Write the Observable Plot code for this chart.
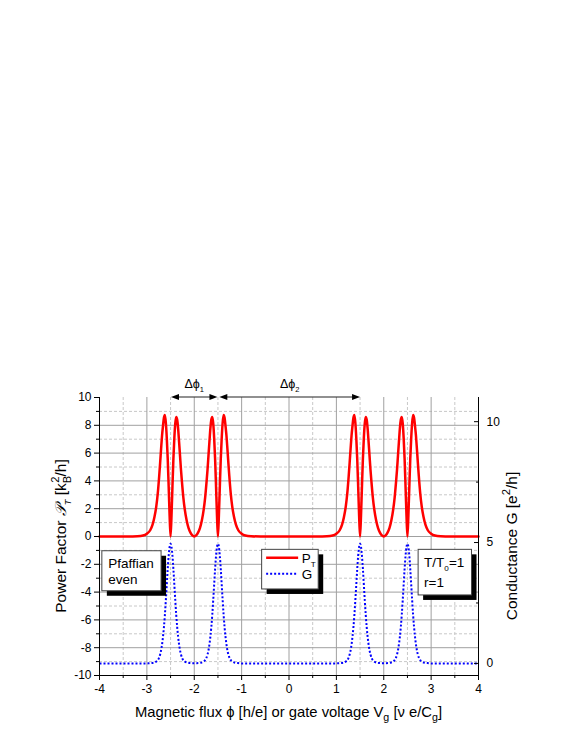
<!DOCTYPE html>
<html><head><meta charset="utf-8">
<script src="https://cdn.jsdelivr.net/npm/d3@7"></script>
<script src="https://cdn.jsdelivr.net/npm/@observablehq/plot@0.6"></script>
<style>body{margin:0;background:#fff;font-family:"Liberation Sans",Arial,sans-serif}</style>
</head><body><div id="chart"></div>
<script>
// ---- data ----
const phiP = [-4,-3.4,-3.2,-3.08,-3.0,-2.93,-2.88,-2.84,-2.80,-2.77,-2.74,-2.72,-2.70,-2.68,-2.66,-2.64,-2.62,-2.60,-2.58,-2.56,-2.54,-2.52,-2.50,-2.48,-2.46,-2.44,-2.42,-2.40,-2.38,-2.36,-2.34,-2.32,-2.30,-2.28,-2.26,-2.23,-2.20,-2.16,-2.12,-2.08,-2.04,-2.00,-1.96,-1.92,-1.88,-1.84,-1.80,-1.77,-1.74,-1.72,-1.70,-1.68,-1.66,-1.64,-1.62,-1.60,-1.58,-1.56,-1.54,-1.52,-1.50,-1.48,-1.46,-1.44,-1.42,-1.40,-1.38,-1.36,-1.34,-1.32,-1.30,-1.28,-1.26,-1.23,-1.20,-1.16,-1.12,-1.07,-1.00,-0.92,-0.80,-0.60,0,
  0.60,0.80,0.92,1.00,1.07,1.12,1.16,1.20,1.23,1.26,1.28,1.30,1.32,1.34,1.36,1.38,1.40,1.42,1.44,1.46,1.48,1.50,1.52,1.54,1.56,1.58,1.60,1.62,1.64,1.66,1.68,1.70,1.72,1.74,1.77,1.80,1.84,1.88,1.92,1.96,2.00,2.04,2.08,2.12,2.16,2.20,2.23,2.26,2.28,2.30,2.32,2.34,2.36,2.38,2.40,2.42,2.44,2.46,2.48,2.50,2.52,2.54,2.56,2.58,2.60,2.62,2.64,2.66,2.68,2.70,2.72,2.74,2.77,2.80,2.84,2.88,2.93,3.00,3.08,3.20,3.40,4.00];
const powerFactor = [0,0,0.02,0.07,0.2,0.45,0.85,1.4,2.2,3.1,4.35,5.3,6.3,7.25,7.95,8.55,8.75,8.2,7.1,5.6,3.6,1.5,0,1.5,3.6,5.6,7.1,8.15,8.6,8.4,7.75,6.8,5.8,4.8,3.95,2.8,1.95,1.15,0.6,0.28,0.08,0,0.08,0.28,0.6,1.15,1.95,2.8,3.95,4.8,5.8,6.8,7.75,8.4,8.6,8.15,7.1,5.6,3.6,1.5,0,1.5,3.6,5.6,7.1,8.2,8.75,8.55,7.95,7.25,6.3,5.3,4.35,3.1,2.2,1.4,0.85,0.45,0.2,0.07,0.02,0,0,
  0,0.02,0.07,0.2,0.45,0.85,1.4,2.2,3.1,4.35,5.3,6.3,7.25,7.95,8.55,8.75,8.2,7.1,5.6,3.6,1.5,0,1.5,3.6,5.6,7.1,8.15,8.6,8.4,7.75,6.8,5.8,4.8,3.95,2.8,1.95,1.15,0.6,0.28,0.08,0,0.08,0.28,0.6,1.15,1.95,2.8,3.95,4.8,5.8,6.8,7.75,8.4,8.6,8.15,7.1,5.6,3.6,1.5,0,1.5,3.6,5.6,7.1,8.2,8.75,8.55,7.95,7.25,6.3,5.3,4.35,3.1,2.2,1.4,0.85,0.45,0.2,0.07,0.02,0,0];
const phiG = [-4,-3.0,-2.95,-2.86,-2.80,-2.75,-2.72,-2.69,-2.66,-2.64,-2.62,-2.60,-2.58,-2.56,-2.54,-2.52,-2.50,-2.48,-2.46,-2.44,-2.42,-2.40,-2.38,-2.36,-2.34,-2.31,-2.28,-2.25,-2.20,-2.14,-2.05,-2.00,-1.95,-1.86,-1.80,-1.75,-1.72,-1.69,-1.66,-1.64,-1.62,-1.60,-1.58,-1.56,-1.54,-1.52,-1.50,-1.48,-1.46,-1.44,-1.42,-1.40,-1.38,-1.36,-1.34,-1.31,-1.28,-1.25,-1.20,-1.14,-1.05,-1.00,0,
  1.00,1.05,1.14,1.20,1.25,1.28,1.31,1.34,1.36,1.38,1.40,1.42,1.44,1.46,1.48,1.50,1.52,1.54,1.56,1.58,1.60,1.62,1.64,1.66,1.69,1.72,1.75,1.80,1.86,1.95,2.00,2.05,2.14,2.20,2.25,2.28,2.31,2.34,2.36,2.38,2.40,2.42,2.44,2.46,2.48,2.50,2.52,2.54,2.56,2.58,2.60,2.62,2.64,2.66,2.69,2.72,2.75,2.80,2.86,2.95,3.00,4.00];
const conductance = [0,0,0.01,0.03,0.08,0.2,0.37,0.65,1.1,1.5,2.0,2.6,3.25,3.9,4.45,4.82,4.95,4.82,4.45,3.9,3.25,2.6,2.0,1.5,1.1,0.65,0.37,0.2,0.08,0.03,0.01,0.01,0.01,0.03,0.08,0.2,0.37,0.65,1.1,1.5,2.0,2.6,3.25,3.9,4.45,4.82,4.95,4.82,4.45,3.9,3.25,2.6,2.0,1.5,1.1,0.65,0.37,0.2,0.08,0.03,0.01,0,0,
  0,0.01,0.03,0.08,0.2,0.37,0.65,1.1,1.5,2.0,2.6,3.25,3.9,4.45,4.82,4.95,4.82,4.45,3.9,3.25,2.6,2.0,1.5,1.1,0.65,0.37,0.2,0.08,0.03,0.01,0.01,0.01,0.03,0.08,0.2,0.37,0.65,1.1,1.5,2.0,2.6,3.25,3.9,4.45,4.82,4.95,4.82,4.45,3.9,3.25,2.6,2.0,1.5,1.1,0.65,0.37,0.2,0.08,0.03,0.01,0,0];

const xTicks = [-4,-3,-2,-1,0,1,2,3,4];
const xMinorTicks = [-3.5,-2.5,-1.5,-0.5,0.5,1.5,2.5,3.5];
const yTicks = [-10,-8,-6,-4,-2,0,2,4,6,8,10];
const yMinorTicks = [-9,-7,-5,-3,-1,1,3,5,7,9];
const gTicks = [0,5,10];
const gMinorTicks = [2.5,7.5];
const gDomain = [-0.5, 11];
const pDomain = [-10, 10];
const xDomain = [-4, 4];

// annotation anchors (data units)
const spacings = [{from:-2.48, to:-1.50, label:"1"}, {from:-1.46, to:1.51, label:"2"}];

// ---- build ----
const gToP = d3.scaleLinear().domain(gDomain).range(pDomain);
const pRows = phiP.map((x,i)=>({x, p: powerFactor[i]}));
const gRows = phiG.map((x,i)=>({x, g: conductance[i]}));
const inner = v => v > -10 && v < 10;

const plot = Plot.plot({
  width: 572, height: 740,
  marginTop: 397, marginBottom: 65, marginLeft: 99, marginRight: 94,
  style: {fontFamily: "'Liberation Sans', Arial, sans-serif", fontSize: "12px", background: "white", color: "black", overflow: "visible"},
  x: {domain: xDomain, axis: null},
  y: {domain: pDomain, axis: null},
  marks: [
    Plot.gridX(xMinorTicks, {stroke: "#c8c8c8", strokeOpacity: 1, strokeDasharray: "3,2"}),
    Plot.gridY(yMinorTicks, {stroke: "#c8c8c8", strokeOpacity: 1, strokeDasharray: "3,2"}),
    Plot.gridX(xTicks.filter(v => v > -4 && v < 4), {stroke: "#a0a0a0", strokeOpacity: 1}),
    Plot.gridY(yTicks.filter(inner), {stroke: "#a0a0a0", strokeOpacity: 1}),
    Plot.line(gRows, {x: "x", y: d => gToP(d.g), stroke: "#0000ff", strokeWidth: 2, strokeDasharray: "2,2", strokeLinecap: "butt", curve: "monotone-x"}),
    Plot.line(pRows, {x: "x", y: "p", stroke: "#ff0000", strokeWidth: 2.5, curve: "monotone-x"}),
    Plot.ruleX([-4], {stroke: "black"}),
    Plot.ruleX([4], {stroke: "black"}),
    Plot.ruleY([-10], {stroke: "black"}),
    Plot.axisX({ticks: xTicks, tickSize: 5, tickPadding: 4, tickFormat: d => String(d), label: null}),
    Plot.axisX({ticks: xMinorTicks, tickSize: 3, tickFormat: () => "", label: null}),
    Plot.axisY({ticks: yTicks, tickSize: 5, tickPadding: 3, tickFormat: d => String(d), label: null}),
    Plot.axisY({ticks: yMinorTicks, tickSize: 3, tickFormat: () => "", label: null}),
    Plot.axisY({anchor: "right", ticks: gTicks.map(gToP), tickSize: -5, tickPadding: 13, tickFormat: v => String(Math.round(gToP.invert(v))), label: null}),
    Plot.axisY({anchor: "right", ticks: gMinorTicks.map(gToP), tickSize: -3, tickFormat: () => "", label: null})
  ]
});
document.getElementById("chart").appendChild(plot);

// ---- annotations using the plot's scales ----
const sx = plot.scale("x"), sy = plot.scale("y");
const X = v => sx.apply(v), Y = v => sy.apply(v);
const svg = d3.select(plot);
const FONT = "'Liberation Sans', Arial, sans-serif";

function rich(g, x, y, parts, size, opts = {}) {
  const t = g.append("text").attr("x", x).attr("y", y).attr("font-family", FONT)
    .attr("font-size", size).attr("fill", "black").attr("text-anchor", opts.anchor || "start");
  if (opts.rotate) t.attr("transform", `rotate(-90 ${x} ${y})`);
  let off = 0;
  for (const p of parts) {
    const [s, kind, extra] = p;
    const ts = t.append("tspan").text(s);
    let target = 0, fs = size;
    if (kind === "sub") { target = size * 0.3; fs = size * 0.72; }
    if (kind === "sup") { target = -size * 0.42; fs = size * 0.72; }
    if (kind === "subs") { target = size * 0.3; fs = size * 0.6; }
    ts.attr("dy", target - off).attr("font-size", fs);
    if (extra && extra.dx) ts.attr("dx", extra.dx);
    if (extra && extra.italic) ts.attr("font-style", "italic");
    if (extra && extra.family) ts.attr("font-family", extra.family);
    off = target;
  }
  return t;
}

const ann = svg.append("g");
// spacing arrows
for (const s of spacings) {
  const x1 = X(s.from), x2 = X(s.to), y = Y(10);
  ann.append("line").attr("x1", x1 + 6).attr("x2", x2 - 6).attr("y1", y).attr("y2", y).attr("stroke", "#222").attr("stroke-width", 1.2);
  ann.append("path").attr("d", `M${x1},${y}l8,-3l0,6z`).attr("fill", "black");
  ann.append("path").attr("d", `M${x2},${y}l-8,-3l0,6z`).attr("fill", "black");
  rich(ann, (x1 + x2) / 2, y - 9, [["Δϕ", "n"], [s.label, "subs"]], 12.5, {anchor: "middle"});
}

function box(x1, x2, y1, y2) {
  const px = X(x1), py = Y(y1), w = X(x2) - X(x1), h = Y(y2) - Y(y1);
  ann.append("rect").attr("x", px + 5).attr("y", py + 5).attr("width", w).attr("height", h).attr("fill", "black");
  ann.append("rect").attr("x", px).attr("y", py).attr("width", w).attr("height", h).attr("fill", "white").attr("stroke", "#444").attr("stroke-width", 1);
  return {px, py, w, h};
}
// Pfaffian box
const b1 = box(-3.94, -2.69, -1.06, -3.94);
rich(ann, b1.px + 6.5, b1.py + 17, [["Pfaffian", "n"]], 13.5);
rich(ann, b1.px + 6.5, b1.py + 33.5, [["even", "n"]], 13.5);
// legend box
const b2 = box(-0.567, 0.627, -0.96, -3.81);
ann.append("line").attr("x1", b2.px + 4.5).attr("x2", b2.px + 36.5).attr("y1", b2.py + 8.5).attr("y2", b2.py + 8.5).attr("stroke", "#ff0000").attr("stroke-width", 2.5);
ann.append("line").attr("x1", b2.px + 4.5).attr("x2", b2.px + 36.5).attr("y1", b2.py + 24.5).attr("y2", b2.py + 24.5).attr("stroke", "#0000ff").attr("stroke-width", 2).attr("stroke-dasharray", "2,2");
rich(ann, b2.px + 40, b2.py + 13.5, [["P", "n"], ["T", "subs"]], 13.5);
rich(ann, b2.px + 40, b2.py + 30, [["G", "n"]], 13.5);
// T/T0 box
const b3 = box(2.736, 3.863, -0.96, -4.24);
rich(ann, b3.px + 6, b3.py + 17.5, [["T/T", "n"], ["0", "subs"], ["=1", "n"]], 13.5);
rich(ann, b3.px + 6, b3.py + 37.5, [["r=1", "n"]], 13.5);

// axis titles
rich(ann, X(0), 717, [["Magnetic flux ϕ [h/e] or gate voltage V", "n"], ["g", "sub"], [" [ν e/C", "n"], ["g", "sub"], ["]", "n"]], 14.8, {anchor: "middle"});
rich(ann, 66, Y(0), [["Power Factor ", "n"], ["𝒫", "n", {italic: true}], ["T", "subs", {italic: true}], [" [k", "n"], ["B", "sub"], ["2", "sup", {dx: -7}], ["/h]", "n"]], 15.5, {anchor: "middle", rotate: true});
rich(ann, 517, 546, [["Conductance G [e", "n"], ["2", "sup"], ["/h]", "n"]], 15.5, {anchor: "middle", rotate: true});
</script>
</body></html>
